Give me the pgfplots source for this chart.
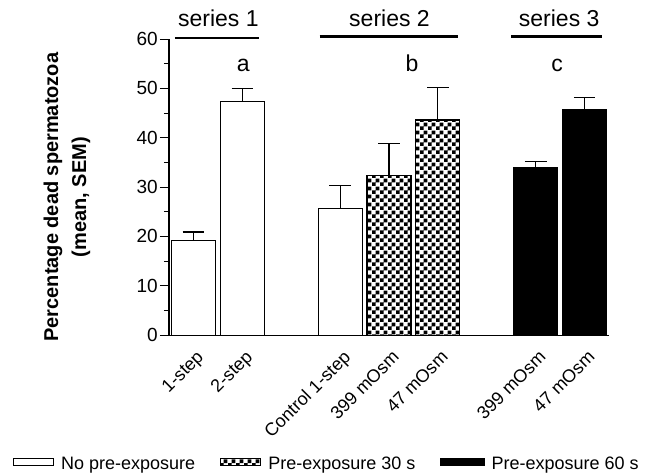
\documentclass[border=0pt]{standalone}
\usepackage{pgfplots}
\pgfplotsset{compat=1.18}
\usepackage{fontspec}
\setmainfont{Liberation Sans}
\usetikzlibrary{patterns}

\pgfdeclarepatternformonly{bigchecker}{\pgfpointorigin}{\pgfpoint{7.6pt}{7.6pt}}{\pgfpoint{7.6pt}{7.6pt}}{%
  \pgfpathrectangle{\pgfpointorigin}{\pgfpoint{3.85pt}{3.85pt}}%
  \pgfpathrectangle{\pgfpoint{3.8pt}{3.8pt}}{\pgfpoint{3.85pt}{3.85pt}}%
  \pgfusepath{fill}%
}

\pgfplotstableread{
x y e
0 19.1 1.8
1 47.4 2.6
3 25.7 4.6
}\whitebars
\pgfplotstableread{
x y e
4 32.4 6.4
5 43.6 6.6
}\checkbars
\pgfplotstableread{
x y e
7 33.9 1.2
8 45.8 2.3
}\blackbars

\begin{document}
\begin{tikzpicture}
\begin{axis}[
  scale only axis, width=440pt, height=296pt,
  xmin=-0.5, xmax=8.5, ymin=0, ymax=60,
  clip=false,
  axis x line*=bottom, axis y line*=left,
  axis line style={-, line width=1.1pt},
  ytick={0,10,...,60}, minor y tick num=1,
  tick align=outside, major tick length=9pt, minor tick length=5pt,
  y tick style={line width=1.1pt, black},
  xtick={0,1,3,4,5,7,8},
  xticklabels={1-step,2-step,Control 1-step,399 mOsm,47 mOsm,399 mOsm,47 mOsm},
  x tick style={draw=none},
  xticklabel style={rotate=45, anchor=north east, inner sep=0pt, xshift=-2pt, yshift=-5pt, font=\fontsize{18}{20}\selectfont},
  yticklabel style={font=\fontsize{19}{22}\selectfont, inner sep=2pt},
  /pgf/number format/assume math mode=true,
  ylabel={Percentage dead spermatozoa\\(mean, SEM)},
  ylabel style={at={(axis description cs:-0.232,0.466)}, anchor=center, align=center, font=\bfseries\fontsize{20}{28}\selectfont},
  legend columns=3,
  legend style={draw=none, fill=none, at={(axis description cs:-0.355,-0.436)}, anchor=west,
    font=\fontsize{18}{20}\selectfont, inner sep=0pt, nodes={inner sep=0pt},
    /tikz/every odd column/.append style={column sep=7pt},
    /tikz/every even column/.append style={column sep=25pt}},
]
\addplot[ybar, bar width=0.9, bar shift=0, draw=black, fill=white, line width=1.1pt,
  legend image code/.code={\draw[black, fill=white, line width=1.1pt] (0pt,-1pt) rectangle (40pt,6pt);},
  error bars/.cd, y dir=plus, y explicit,
  error bar style={line width=1.1pt, black},
  error mark options={rotate=90, mark size=10.8pt, line width=1.1pt, black}]
  table[x=x, y=y, y error=e] {\whitebars};
\addlegendentry{No pre-exposure}
\addplot[ybar, bar width=0.9, bar shift=0, draw=black, pattern=bigchecker, line width=1.1pt,
  legend image code/.code={\draw[black, pattern=bigchecker, line width=1.1pt] (0pt,-1pt) rectangle (40pt,6pt);},
  error bars/.cd, y dir=plus, y explicit,
  error bar style={line width=1.1pt, black},
  error mark options={rotate=90, mark size=10.8pt, line width=1.1pt, black}]
  table[x=x, y=y, y error=e] {\checkbars};
\addlegendentry{Pre-exposure 30 s}
\addplot[ybar, bar width=0.9, bar shift=0, draw=black, fill=black, line width=1.1pt,
  legend image code/.code={\draw[black, fill=black, line width=1.1pt] (0pt,-1pt) rectangle (43pt,6pt);},
  error bars/.cd, y dir=plus, y explicit,
  error bar style={line width=1.1pt, black},
  error mark options={rotate=90, mark size=10.8pt, line width=1.1pt, black}]
  table[x=x, y=y, y error=e] {\blackbars};
\addlegendentry{Pre-exposure 60 s}

\addplot[forget plot, no marks, black, line width=2.6pt] coordinates {(-0.38,60.2) (1.34,60.2)};
\addplot[forget plot, no marks, black, line width=2.6pt] coordinates {(2.58,60.5) (5.42,60.5)};
\addplot[forget plot, no marks, black, line width=2.6pt] coordinates {(6.50,60.5) (8.36,60.5)};

\node[anchor=base, font=\fontsize{23}{26}\selectfont] at (axis cs:0.51,62.5) {series 1};
\node[anchor=base, font=\fontsize{23}{26}\selectfont] at (axis cs:4.01,62.5) {series 2};
\node[anchor=base, font=\fontsize{23}{26}\selectfont] at (axis cs:7.48,62.5) {series 3};
\node[anchor=base, font=\fontsize{23}{26}\selectfont] at (axis cs:1.02,53.4) {a};
\node[anchor=base, font=\fontsize{23}{26}\selectfont] at (axis cs:4.47,53.4) {b};
\node[anchor=base, font=\fontsize{23}{26}\selectfont] at (axis cs:7.44,53.4) {c};

\path (rel axis cs:-0.384,-0.470) rectangle (rel axis cs:1.093,1.132);
\end{axis}
\end{tikzpicture}
\end{document}
